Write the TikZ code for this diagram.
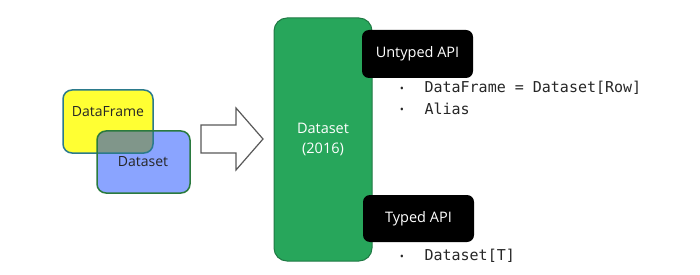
\documentclass[tikz,border=0pt]{standalone}
\usepackage{fontspec}
\setmainfont{Open Sans}
\newfontfamily\monof{DejaVu Sans Mono}
\definecolor{dsgreen}{HTML}{27A65B}
\definecolor{dsgreenline}{HTML}{1F7A44}
\definecolor{dfyellow}{HTML}{FFFF33}
\definecolor{dfline}{HTML}{2B7A8C}
\definecolor{dsblue}{HTML}{8AA4FF}
\definecolor{overlapc}{HTML}{80968A}
\definecolor{dsblueline}{HTML}{2A7A3E}
\tikzset{
  apibox/.style={fill=black, rounded corners=7pt, text=white, font=\fontsize{14.5}{16}\selectfont},
  bullettxt/.style={anchor=west, font=\monof\fontsize{15}{17}\selectfont, text=black!85},
  bulletdot/.style={anchor=center, font=\fontsize{11}{12}\selectfont, text=black!85},
  lbl/.style={font=\fontsize{14}{16}\selectfont, text=black!85},
}
\begin{document}
\begin{tikzpicture}[x=1pt,y=-1pt]
\useasboundingbox (0,0) rectangle (700,275);
% left boxes
\fill[dfyellow, rounded corners=9pt] (63,90) rectangle (153,153);
\fill[dsblue, rounded corners=9pt] (97,131) rectangle (190,193);
\begin{scope}
\clip[rounded corners=9pt] (63,90) rectangle (153,153);
\fill[overlapc, rounded corners=9pt] (97,131) rectangle (190,193);
\end{scope}
\draw[dfline, line width=1.5pt, rounded corners=9pt] (63,90) rectangle (153,153);
\draw[dsblueline, line width=1.5pt, rounded corners=9pt] (97,131) rectangle (190,193);
\node[lbl] (df) at (108,112) {DataFrame};
\node[lbl] (dsl) at (143,162) {Dataset};
% arrow
\draw[black!65, line width=1.2pt, fill=white, line join=miter] (201,125) -- (236,125) -- (236,108) -- (263,139) -- (236,170) -- (236,153) -- (201,153) -- cycle;
% big green box
\node[fill=dsgreen, draw=dsgreenline, line width=1pt, rounded corners=13pt, minimum width=98pt, minimum height=243pt, text=white, align=center, font=\fontsize{14.5}{20}\selectfont] (ds) at (323,139.5) {Dataset\\(2016)};
% api boxes
\node[apibox, minimum width=111pt, minimum height=48pt] (untyped) at (417.5,54) {Untyped API};
\node[apibox, minimum width=111pt, minimum height=47pt] (typed) at (418.5,218.5) {Typed API};
% bullets
\node[bulletdot] (b1) at (402,90) {\textbullet};
\node[bullettxt] (t1) at (421,88) {DataFrame = Dataset[Row]};
\node[bulletdot] (b2) at (402,111) {\textbullet};
\node[bullettxt] (t2) at (421,109) {Alias};
\node[bulletdot] (b3) at (402,258) {\textbullet};
\node[bullettxt] (t3) at (421,256) {Dataset[T]};
\end{tikzpicture}
\end{document}
